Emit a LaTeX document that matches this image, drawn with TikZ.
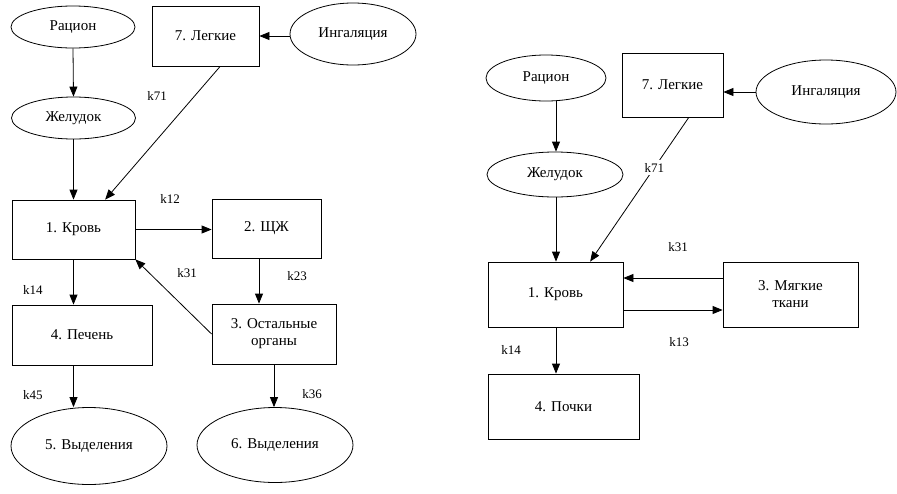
\documentclass[tikz,border=0pt]{standalone}
\usepackage{fontspec}
\setmainfont{LiberationSerif}[Extension=.ttf, UprightFont=*-Regular, BoldFont=*-Bold]
\usetikzlibrary{shapes.geometric,arrows.meta,calc}
\begin{document}
\begin{tikzpicture}[x=1pt,y=-1pt,
  box/.style={draw, line width=0.8pt, inner sep=2pt, font=\rmfamily\fontsize{15}{17}\selectfont, align=center},
  oval/.style={draw, ellipse, line width=0.8pt, inner sep=0pt, font=\rmfamily\fontsize{15}{17}\selectfont},
  lbl/.style={font=\rmfamily\fontsize{13}{15}\selectfont, inner sep=1pt},
  arr/.style={line width=0.8pt, -{Triangle[length=10pt,width=8pt]}}]
\useasboundingbox (0,0) rectangle (897,493);
% ---------- left diagram ----------
\node[oval, minimum width=124, minimum height=42] (rac) at (73,27) {Рацион};
\node[box, minimum width=107, minimum height=60] (leg) at (205.5,36) {7. Легкие};
\node[oval, minimum width=126, minimum height=62] (ing) at (353,34) {Ингаляция};
\node[oval, minimum width=124, minimum height=42] (zhel) at (73.5,118) {Желудок};
\node[box, minimum width=123, minimum height=59] (krov) at (73.5,229.5) {1. Кровь};
\node[box, minimum width=109, minimum height=59] (shch) at (266.5,228.5) {2. ЩЖ};
\node[box, minimum width=140, minimum height=60] (pech) at (82,335) {4. Печень};
\node[box, minimum width=124, minimum height=60] (org) at (274,334) {3. Остальные\\органы};
\node[oval, minimum width=156, minimum height=77] (vyd5) at (89,446) {5. Выделения};
\node[oval, minimum width=156, minimum height=75] (vyd6) at (275,445) {6. Выделения};
\node[lbl] (k71a) at (157,96) {k71};
\node[lbl] (k12a) at (170,199) {k12};
\node[lbl] (k14a) at (33,290) {k14};
\node[lbl] (k31a) at (187,273) {k31};
\node[lbl] (k23a) at (297,276) {k23};
\node[lbl] (k45a) at (33,395) {k45};
\node[lbl] (k36a) at (312,394) {k36};
\draw[arr] (ing.west |- leg.east) -- (leg.east);
\draw[arr] (rac.south) -- (zhel.north);
\draw[arr] (zhel.south) -- (krov.north);
\draw[arr] ($(leg.south west)!0.636!(leg.south east)$) -- ($(krov.north west)!0.756!(krov.north east)$);
\draw[arr] (krov.east) -- (shch.west |- krov.east);
\draw[arr] (krov.south) -- (krov.south |- pech.north);
\draw[arr] (shch.south -| 259,0) -- (org.north -| 259,0);
\draw[arr] (org.west) -- (krov.south east);
\draw[arr] (krov.south |- pech.south) -- (krov.south |- vyd5.north);
\draw[arr] (org.south) -- (org.south |- vyd6.north);
% ---------- right diagram ----------
\node[oval, minimum width=120, minimum height=46] (rac2) at (546,78) {Рацион};
\node[box, minimum width=101, minimum height=64] (leg2) at (672.5,85) {7. Легкие};
\node[oval, minimum width=140, minimum height=64] (ing2) at (826,92) {Ингаляция};
\node[oval, minimum width=136, minimum height=45] (zhel2) at (555,174.5) {Желудок};
\node[box, minimum width=135, minimum height=65] (krov2) at (555.5,294.5) {1. Кровь};
\node[box, minimum width=135, minimum height=65] (myag) at (790.5,294.5) {3. Мягкие\\ткани};
\node[box, minimum width=151, minimum height=65] (poch) at (563.5,406.5) {4. Почки};
\coordinate (l2s) at ($(leg2.south west)!0.66!(leg2.south east)$);
\coordinate (k2n) at ($(krov2.north west)!0.755!(krov2.north east)$);
\draw[arr] (l2s) -- (k2n);
\node[lbl, fill=white, inner sep=3pt] (k71b) at ($(l2s)!0.35!(k2n)$) {k71};
\node[lbl] (k31b) at (678,247) {k31};
\node[lbl] (k13b) at (679,342) {k13};
\node[lbl] (k14b) at (511,350) {k14};
\draw[arr] (ing2.west) -- (ing2.west -| leg2.east);
\draw[arr] (rac2.south -| 556,0) -- (zhel2.north -| 556,0);
\draw[arr] (zhel2.south -| 556,0) -- (krov2.north -| 556,0);
\draw[arr] ([yshift=16.5pt]myag.west) -- ([yshift=16.5pt]myag.west -| krov2.east);
\draw[arr] ([yshift=-15.5pt]krov2.east) -- ([yshift=-15.5pt]krov2.east -| myag.west);
\draw[arr] (krov2.south -| 556,0) -- (poch.north -| 556,0);
\end{tikzpicture}
\end{document}
